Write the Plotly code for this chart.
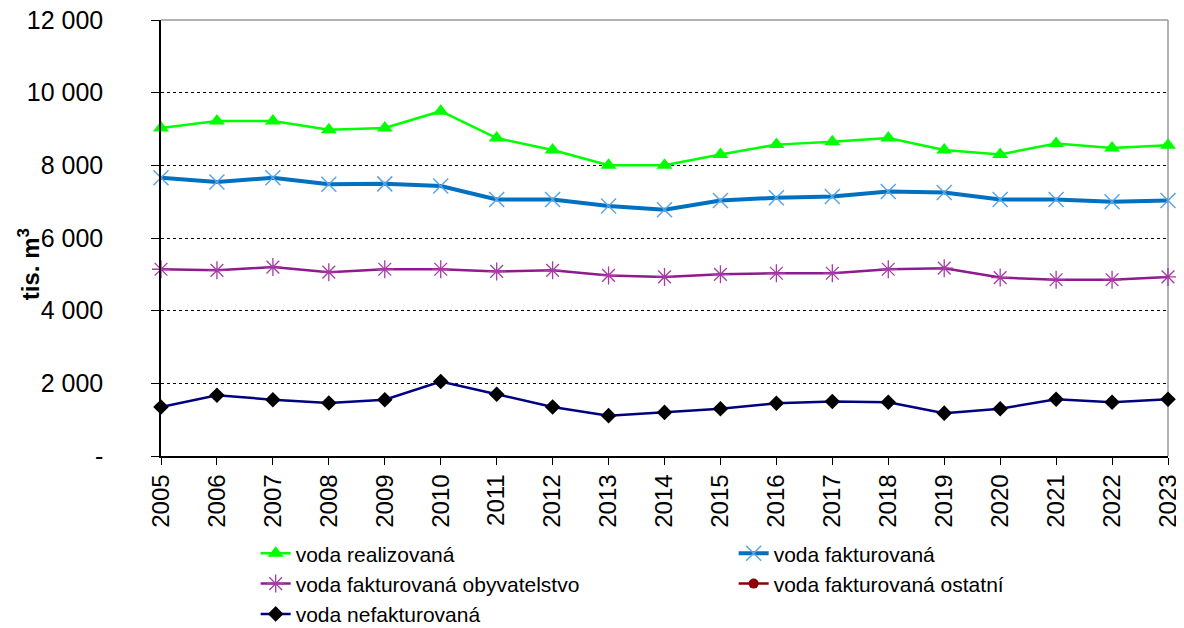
import plotly.graph_objects as go

years = list(range(2005, 2024))
year_labels = [str(y) for y in years]

voda_realizovana = [9030, 9220, 9220, 8980, 9030, 9490, 8750, 8420, 8000, 8000,
                    8300, 8570, 8650, 8750, 8420, 8300, 8600, 8480, 8550]
voda_fakturovana = [7660, 7540, 7660, 7480, 7490, 7430, 7060, 7060, 6880, 6780,
                    7030, 7110, 7140, 7280, 7250, 7060, 7060, 7000, 7030]
voda_fakt_obyv = [5140, 5110, 5200, 5060, 5140, 5140, 5080, 5110, 4970, 4930,
                  5000, 5030, 5030, 5140, 5170, 4910, 4850, 4850, 4930]
voda_fakt_ostatni = [None] * len(years)
voda_nefakturovana = [1350, 1670, 1550, 1460, 1550, 2050, 1700, 1350, 1110, 1200,
                      1300, 1450, 1500, 1480, 1180, 1300, 1560, 1480, 1560]

y_tickvals = [0, 2000, 4000, 6000, 8000, 10000, 12000]
y_ticktext = ["-", "2 000", "4 000", "6 000", "8 000", "10 000", "12 000"]

series_names = ["voda realizovaná", "voda fakturovaná", "voda fakturovaná obyvatelstvo",
                "voda fakturovaná ostatní", "voda nefakturovaná"]

FONT = "Arial, 'Liberation Sans', sans-serif"

fig = go.Figure()
fig.add_trace(go.Scatter(
    x=years, y=voda_realizovana, name=series_names[0], mode="lines+markers",
    line=dict(color="#00FF00", width=2.5),
    marker=dict(symbol="triangle-up", size=14, color="#00FF00"),
    cliponaxis=False))
fig.add_trace(go.Scatter(
    x=years, y=voda_fakturovana, name=series_names[1], mode="lines+markers",
    line=dict(color="#0070C0", width=4),
    marker=dict(symbol="x-thin-open", size=15, color="#5AA5E6",
                line=dict(color="#5AA5E6", width=1.5)),
    cliponaxis=False))
fig.add_trace(go.Scatter(
    x=years, y=voda_fakt_obyv, name=series_names[2], mode="lines+markers",
    line=dict(color="#8E1A8E", width=2.5),
    marker=dict(symbol="asterisk-open", size=15, color="#A63AA6",
                line=dict(color="#A63AA6", width=1.3)),
    cliponaxis=False))
fig.add_trace(go.Scatter(
    x=years, y=voda_fakt_ostatni, name=series_names[3], mode="lines+markers",
    line=dict(color="#8B0000", width=2.5),
    marker=dict(symbol="circle", size=10, color="#8B0000"),
    cliponaxis=False))
fig.add_trace(go.Scatter(
    x=years, y=voda_nefakturovana, name=series_names[4], mode="lines+markers",
    line=dict(color="#000080", width=2.5),
    marker=dict(symbol="diamond", size=12, color="#000000"),
    cliponaxis=False))

# The page body has an 8px margin, so the figure is offset by 8px.
fig.update_layout(
    width=1176, height=620,
    margin=dict(l=153, r=16, t=12, b=172, autoexpand=False),
    paper_bgcolor="white", plot_bgcolor="white",
    font=dict(family=FONT, size=22, color="black"),
    showlegend=True,
    legend=dict(orientation="h", x=0.094, y=-0.177, xanchor="left", yanchor="top",
                entrywidth=433, entrywidthmode="pixels",
                font=dict(family=FONT, size=21, color="black"),
                bgcolor="rgba(0,0,0,0)", tracegroupgap=0),
    xaxis=dict(range=[2005, 2023], tickmode="array", tickvals=years, ticktext=year_labels,
               tickangle=-90, ticks="outside", ticklen=7, tickcolor="black", tickwidth=1,
               showline=True, linecolor="black", linewidth=1.5, showgrid=False,
               zeroline=False, automargin=False, ticklabeloverflow="allow",
               tickfont=dict(family=FONT, size=24, color="black")),
    yaxis=dict(range=[0, 12000], tickmode="array", tickvals=y_tickvals, ticktext=y_ticktext,
               ticks="outside", ticklen=8, tickcolor="black", tickwidth=1,
               showline=True, linecolor="black", linewidth=1.5,
               showgrid=True, gridcolor="black", gridwidth=1, griddash="dot",
               zeroline=False, ticklabelstandoff=43, automargin=False,
               ticklabeloverflow="allow",
               tickfont=dict(family=FONT, size=25, color="black")),
    shapes=[
        dict(type="line", xref="paper", yref="paper", x0=0, x1=1, y0=1, y1=1,
             line=dict(color="#999999", width=1.5), layer="above"),
        dict(type="line", xref="paper", yref="paper", x0=1, x1=1, y0=0, y1=1,
             line=dict(color="#999999", width=1.5), layer="below"),
    ],
    annotations=[
        dict(text="<b>tis. m<sup>3</sup></b>", xref="paper", yref="paper",
             x=0, y=0.44, xanchor="center", yanchor="middle", xshift=-132,
             textangle=-90, showarrow=False,
             font=dict(family=FONT, size=24, color="black")),
    ],
)

fig.write_html("out.html")
